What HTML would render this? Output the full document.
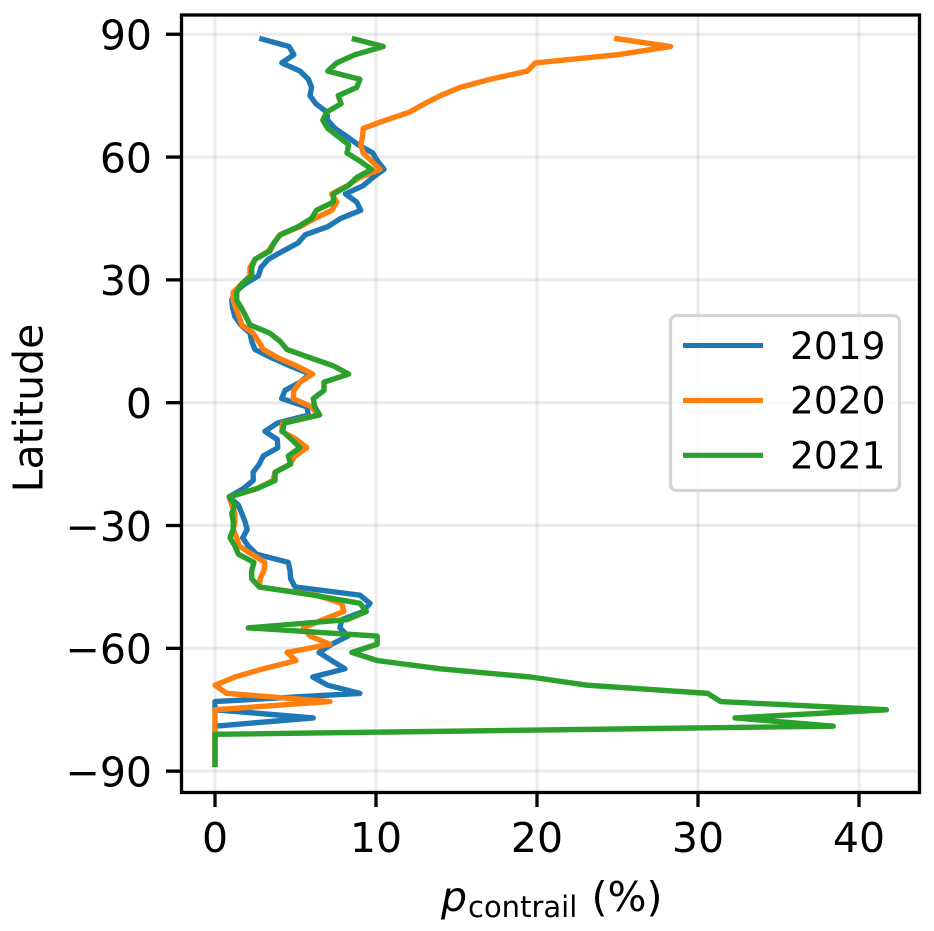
<!DOCTYPE html>
<html>
<head>
<meta charset="utf-8">
<title>Contrail probability by latitude</title>
<style>
html,body{margin:0;padding:0;background:#fff;}
svg{display:block;font-family:"DejaVu Sans","Liberation Sans",sans-serif;}
</style>
</head>
<body>
<svg id="chart" xmlns="http://www.w3.org/2000/svg" width="934" height="931" viewBox="0 0 934 931">
  <defs><clipPath id="plot-clip"><rect x="181.5" y="15" width="738" height="777.5"/></clipPath></defs>
  <rect x="0" y="0" width="934" height="931" fill="#fff"/>
  <g id="grid"></g>
  <g id="series" clip-path="url(#plot-clip)"></g>
  <g id="ticks"></g>
  <g id="legend"></g>
  <rect x="181.5" y="15" width="738" height="777.5" fill="none" stroke="#000" stroke-width="3.3"/>
  <text transform="translate(42.5,408) rotate(-90)" text-anchor="middle" font-size="41">Latitude</text>
  <text font-size="41"><tspan x="441" y="911" font-style="italic">p</tspan><tspan x="468" y="917" font-size="29">contrail</tspan><tspan x="591.5" y="911">(%)</tspan></text>
</svg>
<script>
const latitudes = [89,87,85,83,81,79,77,75,73,71,69,67,65,63,61,59,57,55,53,51,49,47,45,43,41,39,37,35,33,31,29,27,25,23,21,19,17,15,13,11,9,7,5,3,1,-1,-3,-5,-7,-9,-11,-13,-15,-17,-19,-21,-23,-25,-27,-29,-31,-33,-35,-37,-39,-41,-43,-45,-47,-49,-51,-53,-55,-57,-59,-61,-63,-65,-67,-69,-71,-73,-75,-77,-79,-81,-83,-85,-87,-89];
const values2019 = [2.75,4.6,4.9,4.15,5.28,5.8,6.0,5.9,6.27,6.94,7.0,7.45,8.2,8.9,9.8,10.1,10.5,9.8,9.2,8.1,8.8,9.05,7.8,7.0,5.6,5.15,4.2,3.3,2.85,2.7,1.86,1.24,1.04,1.1,1.24,1.6,2.17,2.28,2.48,3.5,4.66,5.9,5.28,4.35,4.14,5.7,5.8,3.87,3.1,3.87,3.9,3.0,2.75,2.37,2.37,1.75,0.88,1.45,1.66,1.86,2.0,1.72,2.06,2.59,4.55,4.66,4.7,4.97,9.0,9.63,9.2,7.87,7.76,8.26,7.25,6.46,7.25,8.07,6.07,7.0,9.0,0,0,6.1,0,0,0,0,0,0];
const values2020 = [24.8,28.3,25.0,19.9,19.4,17.1,15.2,14.0,13.0,12.1,10.6,9.2,9.17,9.05,9.2,9.73,10.25,9.0,8.2,7.25,7.56,7.25,6.2,5.28,4.04,3.66,3.3,2.48,2.17,2.17,1.66,1.13,1.13,1.3,1.5,1.66,2.37,2.7,3.0,3.9,5.07,6.07,5.28,4.9,4.86,6.0,6.4,4.2,4.14,5.07,5.7,4.97,4.66,3.73,3.6,2.6,0.88,1.04,1.24,1.24,1.13,1.35,1.5,2.28,3.1,3.04,2.8,2.75,6.3,7.87,8.0,6.7,5.5,5.9,7.14,4.47,5.03,3.0,1.24,0,0.73,7.14,0,0,0,0,0,0,0,0];
const values2021 = [8.5,10.45,8.7,7.56,7.0,9.0,8.8,7.66,7.83,6.94,6.7,7.0,7.66,8.3,8.2,9.0,9.73,8.8,8.27,7.35,7.35,6.3,6.0,5.16,4.04,3.66,3.4,2.48,2.28,2.28,1.66,1.35,1.35,1.66,1.93,2.17,3.4,4.04,4.47,5.9,7.35,8.3,6.77,6.77,6.1,6.2,6.5,4.29,4.2,4.76,5.28,4.55,4.7,3.73,3.73,2.6,0.88,1.24,1.04,1.13,1.13,0.93,1.24,1.45,2.42,2.28,2.28,2.75,6.1,9.0,9.4,8.2,2.07,10.07,10.07,8.5,10.1,14.0,19.6,23.1,30.6,31.4,41.7,32.3,38.4,0,0,0,0,0];
const seriesNames = ["2019","2020","2021"];
const xTickValues = [0,10,20,30,40];
const yTickValues = [90,60,30,0,-30,-60,-90];

const NS = "http://www.w3.org/2000/svg";
function xScale(v){ return 215 + v * 16.1; }
function yScale(lat){ return 402.7 - lat * 4.094; }
function make(tag, attrs, parent){
  const el = document.createElementNS(NS, tag);
  for (const k in attrs) el.setAttribute(k, attrs[k]);
  parent.appendChild(el);
  return el;
}
function fmt(n){ return n < 0 ? "\u2212" + Math.abs(n) : String(n); }

const gridG = document.getElementById("grid");
const ticksG = document.getElementById("ticks");
const seriesG = document.getElementById("series");
const legendG = document.getElementById("legend");

xTickValues.forEach(function(v){
  const g = make("line", {x1:xScale(v), x2:xScale(v), y1:15, y2:792, stroke:"#b0b0b0", "stroke-opacity":0.25, "stroke-width":3}, gridG);
  
  
  const t = make("line", {x1:xScale(v), x2:xScale(v), y1:792, y2:807, stroke:"#000", "stroke-width":3.3}, ticksG);
  
  
  const l = make("text", {x:xScale(v), y:852, "text-anchor":"middle", "font-size":41}, ticksG);
  
  
  l.textContent = fmt(v);
});
yTickValues.forEach(function(v){
  const g = make("line", {x1:181, x2:919, y1:yScale(v), y2:yScale(v), stroke:"#b0b0b0", "stroke-opacity":0.25, "stroke-width":3}, gridG);
  
  
  const t = make("line", {x1:166, x2:181.5, y1:yScale(v), y2:yScale(v), stroke:"#000", "stroke-width":3.3}, ticksG);
  
  
  const l = make("text", {x:152, y:yScale(v) + 15.3, "text-anchor":"end", "font-size":41}, ticksG);
  
  
  l.textContent = fmt(v);
});

const seriesColors = ["#1f77b4","#ff7f0e","#2ca02c"];
[values2019, values2020, values2021].forEach(function(vals, i){
  const pts = vals.map(function(v, j){ return xScale(v).toFixed(2) + "," + yScale(latitudes[j]).toFixed(2); }).join(" ");
  const p = make("polyline", {points:pts, fill:"none", stroke:seriesColors[i], "stroke-width":5.4, "stroke-linejoin":"round", "stroke-linecap":"butt"}, seriesG);
  
  
});

const box = make("rect", {x:670.5, y:315.5, width:229, height:175, rx:6, ry:6, fill:"#fff", "fill-opacity":0.8, stroke:"#d5d5d5", "stroke-width":3.3}, legendG);


seriesNames.forEach(function(name, i){
  const rowY = 345.5 + i * 54.9;
  const ln = make("line", {x1:683, x2:763, y1:rowY, y2:rowY, stroke:seriesColors[i], "stroke-width":5.1}, legendG);
  
  
  const tx = make("text", {x:790, y:rowY + 13.3, "font-size":37.5}, legendG);
  
  
  tx.textContent = name;
});
</script>
</body>
</html>
